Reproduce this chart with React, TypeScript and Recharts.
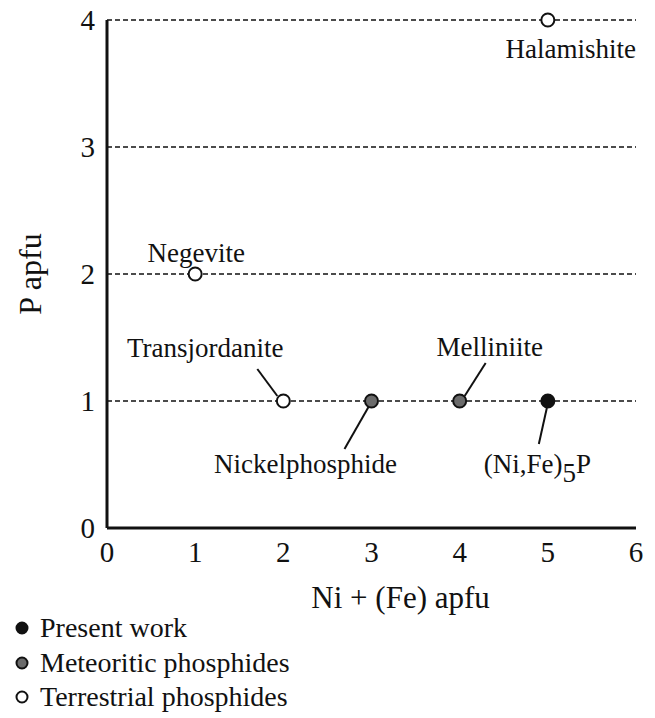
import { ScatterChart, Scatter, XAxis, YAxis, CartesianGrid, Legend, Label } from 'recharts';

// mineral end-members, Ni+(Fe) vs P in apfu
const minerals = ['Halamishite', 'Negevite', 'Transjordanite', 'Nickelphosphide', 'Melliniite', '(Ni,Fe)5P'];
const niFe = [5, 1, 2, 3, 4, 5];
const pApfu = [4, 2, 1, 1, 1, 1];
const origin = ['terrestrial', 'terrestrial', 'terrestrial', 'meteoritic', 'meteoritic', 'present'];

const seriesKeys = ['present', 'meteoritic', 'terrestrial'];
const seriesNames = ['Present work', 'Meteoritic phosphides', 'Terrestrial phosphides'];
const xTicks = [0, 1, 2, 3, 4, 5, 6];
const yTicks = [0, 1, 2, 3, 4];

const FONT = '"Liberation Serif", "Times New Roman", serif';
const fills: Record<string, string> = { present: '#111111', meteoritic: '#6b6b6b', terrestrial: '#ffffff' };

// label placement relative to the point: text dx/dy (baseline), optional leader line
const notes: Record<string, { dx: number; dy: number; anchor: string; line?: number[] }> = {
  Halamishite: { dx: 23, dy: 38, anchor: 'middle' },
  Negevite: { dx: 1, dy: -12, anchor: 'middle' },
  Transjordanite: { dx: -78, dy: -44, anchor: 'middle', line: [-26, -32, -6, -5] },
  Nickelphosphide: { dx: -66, dy: 72, anchor: 'middle', line: [-3, 6, -27, 48] },
  Melliniite: { dx: 30, dy: -45, anchor: 'middle', line: [26, -38, 5, -5] },
  '(Ni,Fe)5P': { dx: -64, dy: 72, anchor: 'start', line: [-1, 7, -9, 43] },
};

const byOrigin = (key: string) =>
  minerals
    .map((name, i) => ({ name, x: niFe[i], y: pApfu[i], origin: origin[i] }))
    .filter((d) => d.origin === key);

function Marker(props: any) {
  const { cx, cy, payload } = props;
  const note = notes[payload.name];
  const fill = fills[payload.origin];
  const l = note.line;
  return (
    <g>
      {l && <line x1={cx + l[0]} y1={cy + l[1]} x2={cx + l[2]} y2={cy + l[3]} stroke="#111" strokeWidth={2} />}
      <circle cx={cx} cy={cy} r={6.5} fill={fill} stroke="#111" strokeWidth={2} />
      <text x={cx + note.dx} y={cy + note.dy} textAnchor={note.anchor} fontFamily={FONT} fontSize={27} fill="#111">
        {payload.name === '(Ni,Fe)5P' ? (
          <>
            <tspan>(Ni,Fe)</tspan>
            <tspan dy={9}>5</tspan>
            <tspan dy={-9}>P</tspan>
          </>
        ) : (
          payload.name
        )}
      </text>
    </g>
  );
}

function LegendBox() {
  return (
    <div style={{ fontFamily: FONT, fontSize: 28, color: '#111', lineHeight: '34.5px' }}>
      {seriesKeys.map((k, i) => (
        <div key={k} style={{ display: 'flex', alignItems: 'center' }}>
          <svg width={24} height={20}>
            <circle cx={12} cy={10} r={5.5} fill={fills[k]} stroke="#111" strokeWidth={2} />
          </svg>
          <span style={{ marginLeft: 6 }}>{seriesNames[i]}</span>
        </div>
      ))}
    </div>
  );
}

export default function App() {
  return (
    <div style={{ position: 'absolute', left: 0, top: 0, background: '#fff' }}>
      <ScatterChart width={655} height={718} margin={{ top: 20, right: 19, bottom: 0, left: 0 }}>
        <CartesianGrid vertical={false} stroke="#111" strokeWidth={1.5} strokeDasharray="5 3" />
        <XAxis
          type="number"
          dataKey="x"
          domain={[0, 6]}
          ticks={xTicks}
          axisLine={{ stroke: '#111', strokeWidth: 3 }}
          tickLine={false}
          tickMargin={7}
          height={190}
          tick={{ fontFamily: FONT, fontSize: 29, fill: '#111' }}
        >
          <Label
            content={({ viewBox }: any) => (
              <text x={viewBox.x + viewBox.width * 0.555} y={viewBox.y + 80} textAnchor="middle" fontFamily={FONT} fontSize={31} fill="#111">
                Ni + (Fe) apfu
              </text>
            )}
          />
        </XAxis>
        <YAxis
          type="number"
          dataKey="y"
          domain={[0, 4]}
          ticks={yTicks}
          width={107}
          axisLine={{ stroke: '#111', strokeWidth: 3 }}
          tickLine={false}
          tickMargin={6}
          tick={{ fontFamily: FONT, fontSize: 29, fill: '#111' }}
        >
          <Label
            content={({ viewBox }: any) => {
              const x = 30;
              const y = viewBox.y + viewBox.height / 2;
              return (
                <text x={x} y={y} transform={`rotate(-90, ${x}, ${y})`} textAnchor="middle" dominantBaseline="central" fontFamily={FONT} fontSize={32} fill="#111">
                  P apfu
                </text>
              );
            }}
          />
        </YAxis>
        <Legend
          layout="horizontal"
          verticalAlign="middle"
          align="center"
          wrapperStyle={{ left: 10, top: 611, width: 'auto' }}
          content={() => <LegendBox />}
        />
        {seriesKeys.map((k, i) => (
          <Scatter key={k} name={seriesNames[i]} data={byOrigin(k)} shape={<Marker />} isAnimationActive={false} />
        ))}
      </ScatterChart>
    </div>
  );
}
